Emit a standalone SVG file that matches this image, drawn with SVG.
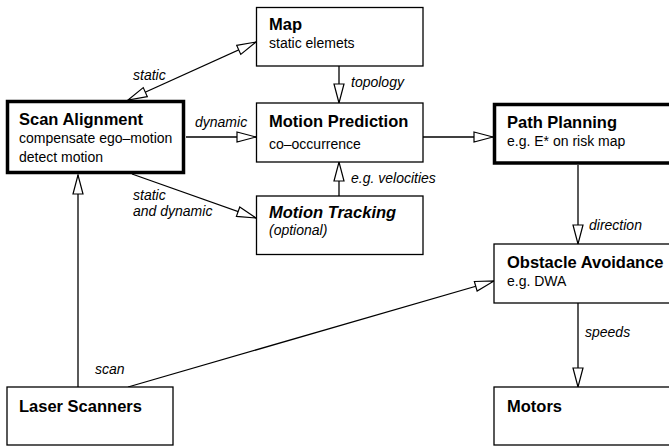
<svg xmlns="http://www.w3.org/2000/svg" width="669" height="447" viewBox="0 0 669 447">
<style>
.box{fill:#fff;stroke:#000;stroke-width:1.3}
.thick{fill:#fff;stroke:#000;stroke-width:3.5}
.t{font-family:"Liberation Sans",Arial,sans-serif;font-size:16.5px;font-weight:bold;fill:#000}
.ti{font-family:"Liberation Sans",Arial,sans-serif;font-size:16.5px;font-weight:bold;font-style:italic;fill:#000}
.s{font-family:"Liberation Sans",Arial,sans-serif;font-size:14px;fill:#000}
.si{font-family:"Liberation Sans",Arial,sans-serif;font-size:14px;font-style:italic;fill:#000}
.lbl{font-family:"Liberation Sans",Arial,sans-serif;font-size:14px;font-style:italic;fill:#000}
.c{fill:none;stroke:#000;stroke-width:1.3}
</style>
<defs>
<marker id="ah" markerUnits="userSpaceOnUse" markerWidth="22" markerHeight="12" refX="19" refY="5" orient="auto-start-reverse" viewBox="-1 -1 22 12">
<path d="M0,0 L19,5 L0,10 Z" fill="#fff" stroke="#000" stroke-width="1.2"/>
</marker>
</defs>
<g id="connectors">
<line class="c" x1="128" y1="100" x2="256" y2="42" marker-start="url(#ah)" marker-end="url(#ah)"/>
<line class="c" x1="186" y1="137" x2="256" y2="137" marker-end="url(#ah)"/>
<line class="c" x1="132" y1="174" x2="256" y2="218" marker-end="url(#ah)"/>
<line class="c" x1="339" y1="66" x2="339" y2="103" marker-end="url(#ah)"/>
<line class="c" x1="339" y1="196" x2="339" y2="162" marker-end="url(#ah)"/>
<line class="c" x1="423" y1="137" x2="493" y2="137" marker-end="url(#ah)"/>
<line class="c" x1="578" y1="165" x2="578" y2="244" marker-end="url(#ah)"/>
<line class="c" x1="578" y1="303" x2="578" y2="387" marker-end="url(#ah)"/>
<line class="c" x1="78" y1="387" x2="78" y2="175" marker-end="url(#ah)"/>
<line class="c" x1="128" y1="387" x2="494" y2="281" marker-end="url(#ah)"/>
<text class="lbl" x="133" y="80">static</text>
<text class="lbl" x="195" y="127">dynamic</text>
<text class="lbl" x="133" y="200">static</text>
<text class="lbl" x="133" y="216">and dynamic</text>
<text class="lbl" x="351" y="87">topology</text>
<text class="lbl" x="351" y="183">e.g. velocities</text>
<text class="lbl" x="589" y="230">direction</text>
<text class="lbl" x="585" y="337">speeds</text>
<text class="lbl" x="95" y="374">scan</text>
</g>
<g id="map">
<rect class="box" x="256.5" y="7.5" width="166.5" height="58.5"/>
<text class="t" x="269" y="30">Map</text>
<text class="s" x="269" y="48">static elemets</text>
</g>
<g id="scan-alignment">
<rect class="thick" x="7.5" y="101.5" width="176" height="71"/>
<text class="t" x="19" y="125">Scan Alignment</text>
<text class="s" x="19" y="142.5">compensate ego–motion</text>
<text class="s" x="19" y="161.5">detect motion</text>
</g>
<g id="motion-prediction">
<rect class="box" x="256.5" y="103" width="166.5" height="59"/>
<text class="t" x="269" y="127">Motion Prediction</text>
<text class="s" x="269" y="149">co–occurrence</text>
</g>
<g id="motion-tracking">
<rect class="box" x="256.5" y="196" width="166.5" height="58.5"/>
<text class="ti" x="269" y="217.5">Motion Tracking</text>
<text class="si" x="269" y="235">(optional)</text>
</g>
<g id="path-planning">
<rect class="thick" x="494.5" y="104.5" width="180" height="58.5"/>
<text class="t" x="507" y="127.5">Path Planning</text>
<text class="s" x="507" y="145.5">e.g. E* on risk map</text>
</g>
<g id="obstacle-avoidance">
<rect class="box" x="494" y="244" width="180" height="59"/>
<text class="t" x="507" y="267.5">Obstacle Avoidance</text>
<text class="s" x="507" y="285.5">e.g. DWA</text>
</g>
<g id="laser-scanners">
<rect class="box" x="7" y="387" width="166" height="58"/>
<text class="t" x="19" y="411.5">Laser Scanners</text>
</g>
<g id="motors">
<rect class="box" x="494" y="387" width="180" height="58"/>
<text class="t" x="507" y="411.5">Motors</text>
</g>
</svg>
